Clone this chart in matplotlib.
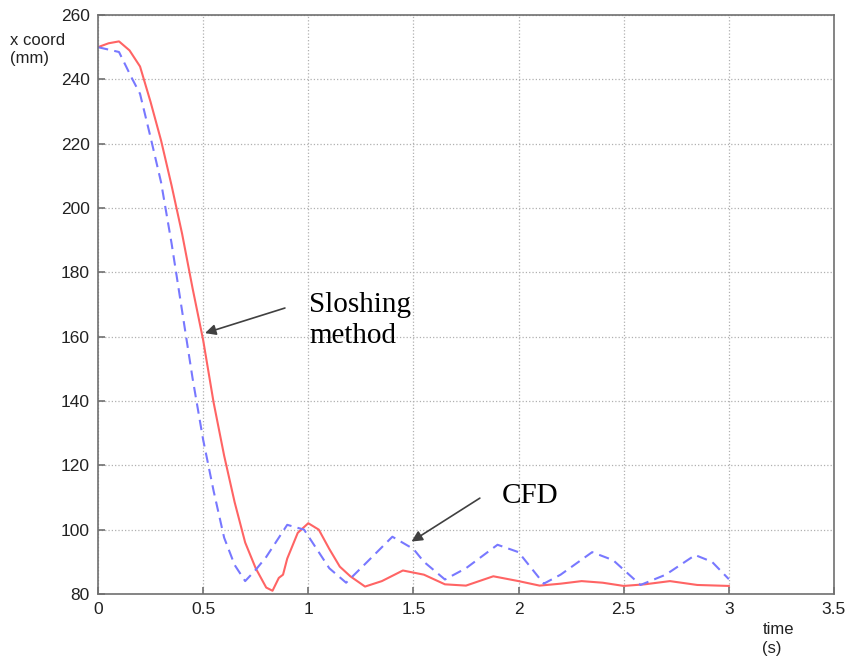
import matplotlib.pyplot as plt

# Sloshing method (red, solid)
t_slosh = [0, 0.05, 0.1, 0.15, 0.2, 0.25, 0.3, 0.35, 0.4, 0.45, 0.5, 0.55, 0.6,
           0.65, 0.7, 0.75, 0.8, 0.83, 0.86, 0.88, 0.9, 0.95, 1.0, 1.05, 1.1,
           1.15, 1.2, 1.27, 1.35, 1.45, 1.55, 1.65, 1.75, 1.88, 2.0, 2.1, 2.2,
           2.3, 2.4, 2.5, 2.6, 2.72, 2.85, 3.0]
x_slosh = [250, 251.2, 251.8, 249, 244, 233, 221, 207, 192, 175, 159, 139.5, 123,
           108.5, 96, 88, 82, 81, 85, 86, 91, 99, 102, 100, 94,
           88.5, 85.5, 82.3, 84, 87.3, 86, 83, 82.6, 85.5, 84, 82.6, 83.2,
           84, 83.5, 82.5, 83, 84, 82.8, 82.5]

# CFD (blue, dashed)
t_cfd = [0, 0.1, 0.16, 0.2, 0.25, 0.3, 0.35, 0.4, 0.45, 0.5, 0.55, 0.6, 0.65,
         0.7, 0.75, 0.8, 0.9, 0.98, 1.05, 1.1, 1.18, 1.25, 1.4, 1.5, 1.55,
         1.65, 1.75, 1.9, 2.0, 2.12, 2.2, 2.35, 2.45, 2.58, 2.7, 2.84, 2.92, 3.0]
x_cfd = [250, 248.5, 240.5, 235.5, 222, 208, 189, 168, 147, 128, 112, 97.5, 89,
         84, 87.5, 91.5, 101.5, 100, 93, 88, 83.5, 88, 97.8, 94, 90,
         84.5, 88, 95.3, 93, 83.2, 86, 93, 90.5, 82.8, 86, 92.1, 90, 84.6]

xticks = [0, 0.5, 1, 1.5, 2, 2.5, 3, 3.5]
xticklabels = ['0', '0.5', '1', '1.5', '2', '2.5', '3', '3.5']
yticks = list(range(80, 261, 20))

fig = plt.figure(figsize=(8.49, 6.61), dpi=100)
ax = fig.add_axes([0.1154, 0.1014, 0.8669, 0.8759])

ax.plot(t_slosh, x_slosh, color='#ff6464', lw=1.5)
ax.plot(t_cfd, x_cfd, color='#7878ff', lw=1.5, ls=(0, (5, 3)))

ax.set_xlim(0, 3.5)
ax.set_ylim(80, 260)
ax.set_xticks(xticks)
ax.set_xticklabels(xticklabels)
ax.set_yticks(yticks)
ax.grid(True, ls=':', color='#b0b0b0', lw=0.9)
for s in ax.spines.values():
    s.set_color('#707070')
    s.set_linewidth(1.2)
ax.tick_params(direction='in', length=5, color='#707070', width=1.2,
               labelsize=12.5, labelcolor='#222222', pad=6)
for lab in ax.get_xticklabels() + ax.get_yticklabels():
    lab.set_family('Liberation Sans')

fig.text(0.012, 0.925, 'x coord\n(mm)', fontsize=12, family='Liberation Sans',
         color='#222222', va='center', ha='left', linespacing=1.3)
fig.text(0.898, 0.033, 'time\n(s)', fontsize=12, family='Liberation Sans',
         color='#222222', va='center', ha='left', linespacing=1.3)

arrow = dict(arrowstyle='-|>', color='#404040', lw=1.2, mutation_scale=16,
             shrinkA=0, shrinkB=0)
ax.annotate('', xy=(0.509, 161.1), xytext=(0.889, 168.9), arrowprops=arrow)
ax.annotate('', xy=(1.491, 96.3), xytext=(1.816, 109.8), arrowprops=arrow)

ax.text(1.005, 173.8, 'Sloshing\nmethod', family='Liberation Serif', fontsize=21,
        va='top', ha='left', linespacing=1.25)
ax.text(1.92, 108.3, 'CFD', family='Liberation Serif', fontsize=21,
        va='baseline', ha='left')

fig.savefig('out.png', dpi=100)
